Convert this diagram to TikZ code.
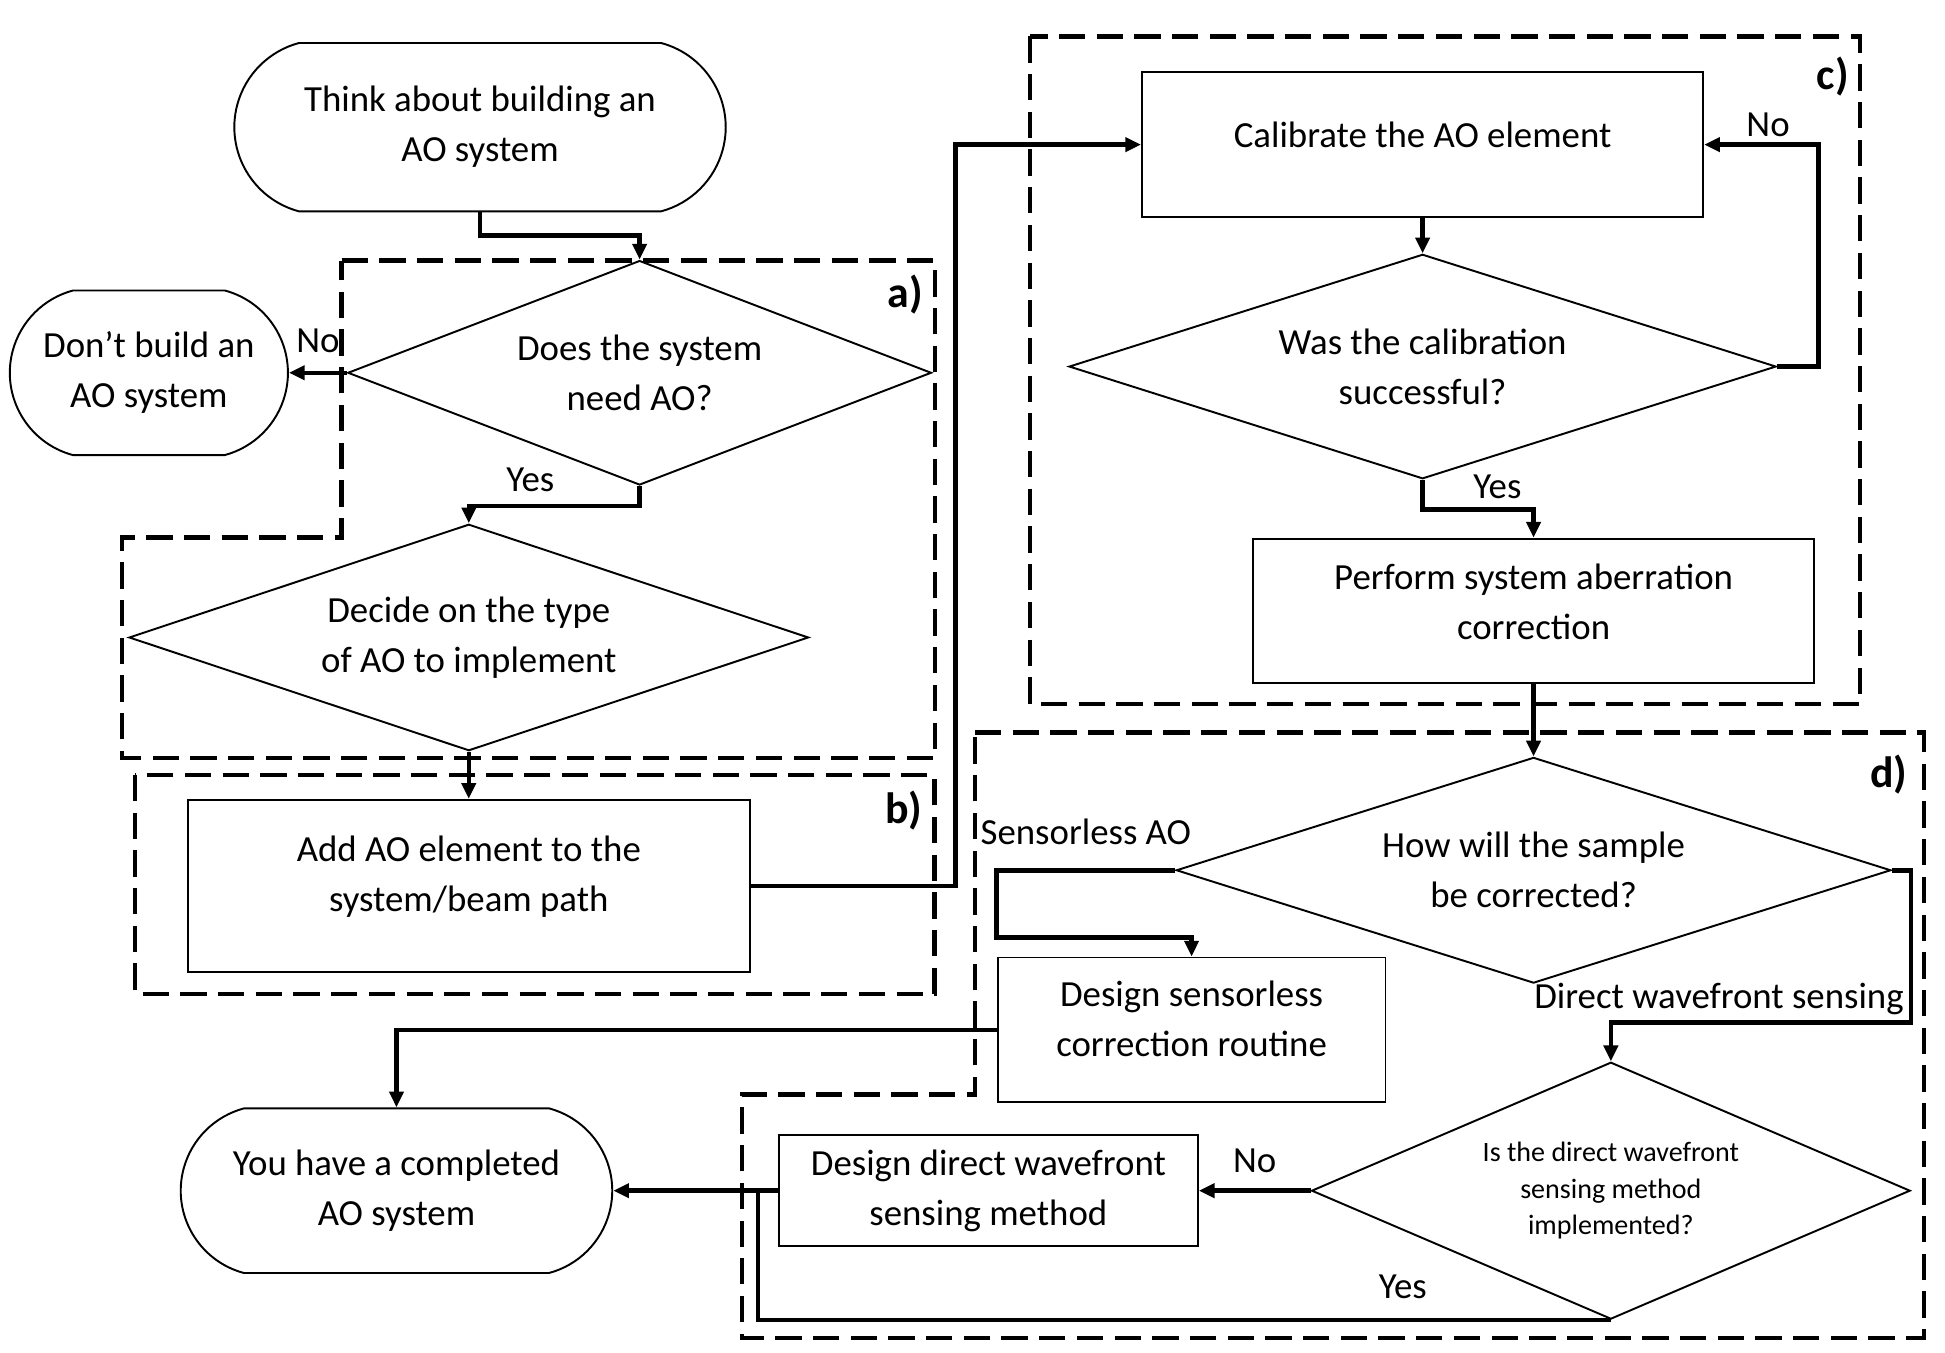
\documentclass[tikz,border=0pt]{standalone}
\usepackage{fontspec}
\setmainfont{Carlito}
\usetikzlibrary{arrows.meta,positioning,shapes.geometric,shapes.misc}
\newcommand{\flowfont}{\fontsize{21}{28.5}\selectfont}
\newcommand{\smallflow}{\fontsize{16}{21}\selectfont}

\begin{document}
\begin{tikzpicture}[x=0.025cm,y=-0.025cm,
    terminal/.style={draw,rounded rectangle,rounded rectangle arc length=150,line width=1.1pt,align=center,font=\flowfont,inner sep=0pt},
    decision/.style={draw,diamond,aspect=2.5,line width=1.1pt,align=center,font=\flowfont,inner sep=0pt},
    process/.style={draw,rectangle,line width=1.1pt,align=center,font=\flowfont,inner sep=2pt},
    group/.style={line width=2.5pt,dash pattern=on 15pt off 6.5pt},
    flow/.style={-{Triangle[length=9pt,width=8pt]},line width=2.6pt},
    joinline/.style={line width=2.6pt},
    tag/.style={font=\flowfont,inner sep=3pt},
    grouplabel/.style={font=\fontsize{25}{30}\selectfont\bfseries,inner sep=0pt}
  ]
    \useasboundingbox (0,0) rectangle (1560,1084.4);

    % Dashed groups a) to d)
    \draw[group] (274,209) -- (750,209) -- (750,608) -- (98,608) -- (98,431) -- (274,431) -- cycle;
    \draw[group] (108.5,621.5) rectangle (749.5,797);
    \draw[group] (826,29.2) rectangle (1492,564.5);
    \draw[group] (782,587.5) -- (1543,587.5) -- (1543,1073) -- (595,1073) -- (595,878) -- (782,878) -- cycle;
    \node[grouplabel] (la) at (726,236) {a)};
    \node[grouplabel] (lb) at (725,650) {b)};
    \node[grouplabel] (lc) at (1470,61.5) {c)};
    \node[grouplabel] (ld) at (1515,621) {d)};

    % Left column
    \node[terminal,minimum width=9.85cm,minimum height=3.375cm] (start) at (385,102) {Think about building an\\AO system};
    \node[terminal,minimum width=5.575cm,minimum height=3.3cm] (dont) at (119.4,299) {Don’t build an\\AO system};
    \node[decision,minimum width=11.7cm,minimum height=4.5cm] (need) at (513,299) {Does the system\\need AO?};
    \node[decision,minimum width=13.625cm,minimum height=4.54cm] (type) at (376,511.3) {Decide on the type\\of AO to implement};
    \node[process,minimum width=11.27cm,minimum height=3.45cm,text depth=14pt] (add) at (376,710.5) {Add AO element to the\\system/beam path};

    % Right column
    \node[process,minimum width=11.25cm,minimum height=2.9cm,text depth=11pt] (calib) at (1141,116) {Calibrate the AO element};
    \node[decision,minimum width=14.175cm,minimum height=4.5cm] (success) at (1141,294) {Was the calibration\\successful?};
    \node[process,minimum width=11.25cm,minimum height=2.9cm,text depth=10.5pt] (perform) at (1230,490) {Perform system aberration\\correction};
    \node[decision,minimum width=14.325cm,minimum height=4.525cm] (sample) at (1230,698) {How will the sample\\be corrected?};
    \node[process,minimum width=7.775cm,minimum height=2.9cm,text depth=13pt] (sensorless) at (955.7,826) {Design sensorless\\correction routine};
    \node[decision,minimum width=12cm,minimum height=5.15cm,font=\smallflow] (impl) at (1292,955) {Is the direct wavefront\\sensing method\\implemented?};
    \node[process,minimum width=8.4cm,minimum height=2.225cm] (direct) at (792.7,955) {Design direct wavefront\\sensing method};
    \node[terminal,minimum width=8.65cm,minimum height=3.3cm] (done) at (318,955) {You have a completed\\AO system};
    \coordinate (merge) at (608,955);

    % Connections
    \draw[flow] (start.south) -- ++(0,18.5) -| (need.north);
    \draw[flow] (need.west) -- node[tag,above=7pt] {No} (dont.east);
    \draw[flow] (need.south) -- ++(0,16) -| node[tag,above=3.5pt,pos=0.32] {Yes} (type.north);
    \draw[flow] (type.south) -- (add.north);
    \draw[flow] (add.east) -- ++(164,0) |- (calib.west);
    \draw[flow] (calib.south) -- (success.north);
    \draw[flow] (success.east) -- ++(33,0) |- node[tag,above,pos=0.72] {No} (calib.east);
    \draw[flow] (success.south) -- ++(0,24) -| node[tag,above=2pt,pos=0.337] {Yes} (perform.north);
    \draw[flow] (perform.south) -- (sample.north);
    \draw[flow] (sample.west) -- node[tag,above=10pt] {Sensorless AO} ++(-143.5,0) -- ++(0,54) -| (sensorless.north);
    \draw[flow] (sensorless.west) -| (done.north);
    \draw[flow] (sample.east) -- ++(15.5,0) -- ++(0,122) node[tag,above left] {Direct wavefront sensing} -| (impl.north);
    \draw[flow] (impl.west) -- node[tag,above=6pt] {No} (direct.east);
    \draw[flow] (direct.west) -- (done.east);
    \draw[joinline] (impl.south) -| node[tag,above=8pt,pos=0.122] {Yes} (merge);
  \end{tikzpicture}
\end{document}
